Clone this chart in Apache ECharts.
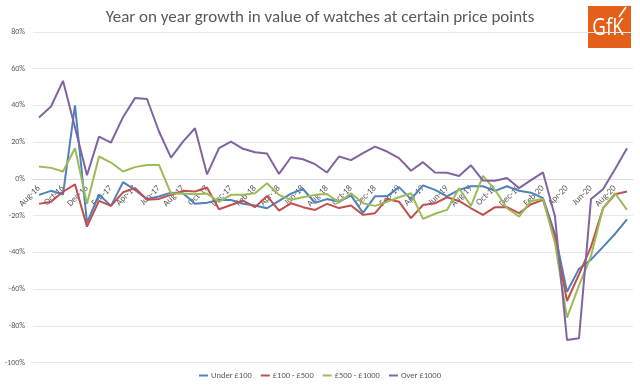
<!DOCTYPE html>
<html>
<head>
<meta charset="utf-8">
<script src="https://cdn.jsdelivr.net/npm/echarts@6/dist/echarts.min.js"></script>
<style>
html,body{margin:0;padding:0;background:#fff;}
#chart{width:640px;height:386px;}
</style>
</head>
<body>
<div id="chart"></div>
<script>
const categories = [
  'Aug-16','Sep-16','Oct-16','Nov-16','Dec-16','Jan-17','Feb-17','Mar-17','Apr-17','May-17','Jun-17','Jul-17',
  'Aug-17','Sep-17','Oct-17','Nov-17','Dec-17','Jan-18','Feb-18','Mar-18','Apr-18','May-18','Jun-18','Jul-18',
  'Aug-18','Sep-18','Oct-18','Nov-18','Dec-18','Jan-19','Feb-19','Mar-19','Apr-19','May-19','Jun-19','Jul-19',
  'Aug-19','Sep-19','Oct-19','Nov-19','Dec-19','Jan-20','Feb-20','Mar-20','Apr-20','May-20','Jun-20','Jul-20',
  'Aug-20','Sep-20'
];
const seriesNames = ['Under £100', '£100 - £500', '£500 - £1000', 'Over £1000'];
const under100 = [
  -8.7, -6.5, -8.5, 40, -24, -8.5, -14.7, -1.8, -6, -11, -9.6, -7.5,
  -7.8, -13.6, -13, -11.5, -11.5, -13.5, -14.5, -16, -12, -8, -5.5, -13,
  -11, -12.5, -9, -18.5, -9.5, -9.5, -4.5, -11, -3.5, -6, -9.5, -6,
  -4, -4, -6.5, -4, -6.5, -7.5, -10.5, -30, -61.5, -49, -44, -37,
  -30, -22
];
const from100to500 = [
  -13.6, -12.4, -7, -3, -26, -12, -14.7, -7.3, -5, -11.4, -10.9, -8.7,
  -6.5, -6.9, -4.7, -16.5, -14.2, -11.8, -15.4, -9.3, -17.3, -13.3, -15.4, -16.9,
  -13.6, -15.9, -14.5, -19.6, -18.7, -11, -12.4, -21.4, -14.2, -13.3, -10, -12,
  -16, -19.6, -15.4, -15.4, -18.7, -13.8, -11.4, -32, -66.5, -52, -37, -16,
  -8.4, -6.9
];
const from500to1000 = [
  6.7, 6, 4, 16.7, -13.6, 12.2, 8.9, 4, 6.4, 7.6, 7.6, -8,
  -8, -8.4, -8, -12.5, -8.7, -8.7, -7.8, -2.4, -8.7, -11.4, -10, -8.7,
  -8.2, -12.9, -7.8, -13.3, -14.7, -12.5, -10, -7.8, -21.8, -19, -16.9, -5.1,
  -14.7, 1.6, -6, -16, -20.5, -12, -11, -35, -75.6, -58, -42, -16,
  -7.8, -16.9
];
const over1000 = [
  33.4, 39.4, 53.4, 28, 2, 23, 19.8, 33.6, 44, 43.5, 25.8, 11.6,
  20.3, 27.6, 2.5, 16.7, 20.3, 16.4, 14.5, 13.8, 2.7, 11.8, 10.7, 8,
  3.5, 12.2, 10.2, 14, 17.6, 14.9, 11.3, 4.4, 9.1, 3.5, 3.3, 1.6,
  7.4, -0.9, -1, 0.5, -5, -0.7, 3.5, -20.5, -87.7, -86.8, -11, -5.6,
  5.3, 16.7
];
const colors = ['#4F81BD', '#C0504D', '#9BBB59', '#8064A2'];
const allData = [under100, from100to500, from500to1000, over1000];

const yMin = -100, yMax = 80;
const gridTop = 32, gridBottom = 23.5, chartH = 386;
const plotH = chartH - gridTop - gridBottom;
const zeroOffset = -plotH * (0 - yMin) / (yMax - yMin);

const chart = echarts.init(document.getElementById('chart'), null, {renderer: 'canvas'});
const font = 'Carlito, "Liberation Sans Narrow", "Open Sans", sans-serif';
chart.setOption({
  animation: false,
  color: colors,
  title: {
    text: 'Year on year growth in value of watches at certain price points',
    left: 'center',
    top: 4,
    textStyle: {fontFamily: font, fontSize: 17, fontWeight: 'normal', color: '#595959'}
  },
  legend: {
    bottom: 1,
    left: 'center',
    itemWidth: 9,
    itemHeight: 2,
    itemGap: 9,
    icon: 'rect',
    textStyle: {fontFamily: font, fontSize: 8.5, color: '#595959', padding: [0, 0, 0, -2]},
    data: seriesNames
  },
  grid: {left: 33, right: 7, top: gridTop, bottom: gridBottom, containLabel: false},
  xAxis: {
    type: 'category',
    data: categories,
    boundaryGap: true,
    position: 'bottom',
    offset: zeroOffset,
    axisLine: {onZero: false, lineStyle: {color: '#D9D9D9', width: 1}},
    axisTick: {show: false},
    axisLabel: {interval: 1, rotate: 45, fontSize: 9, color: '#595959', margin: 8, fontFamily: font},
    splitLine: {show: false}
  },
  yAxis: {
    type: 'value',
    min: yMin,
    max: yMax,
    interval: 20,
    axisLine: {show: false},
    axisTick: {show: false},
    axisLabel: {formatter: '{value}%', fontSize: 8, color: '#595959', margin: 8, fontFamily: font},
    splitLine: {lineStyle: {color: '#E8E8E8', width: 1}}
  },
  series: seriesNames.map((n, i) => ({
    name: n,
    type: 'line',
    data: allData[i],
    symbol: 'none',
    lineStyle: {width: 2, color: colors[i]},
    itemStyle: {color: colors[i]}
  })),
  graphic: [
    {type: 'rect', shape: {x: 588, y: 6, width: 43, height: 42}, style: {fill: '#E2601A'}},
    {type: 'text', x: 608, y: 28, scaleX: 0.78, style: {text: 'GfK', fill: '#fff', font: '24px "Open Sans", sans-serif', textAlign: 'center', textVerticalAlign: 'middle'}},
    {type: 'line', shape: {x1: 619, y1: 17, x2: 626, y2: 7}, style: {stroke: '#fff', lineWidth: 1.5}}
  ]
});
</script>
</body>
</html>
